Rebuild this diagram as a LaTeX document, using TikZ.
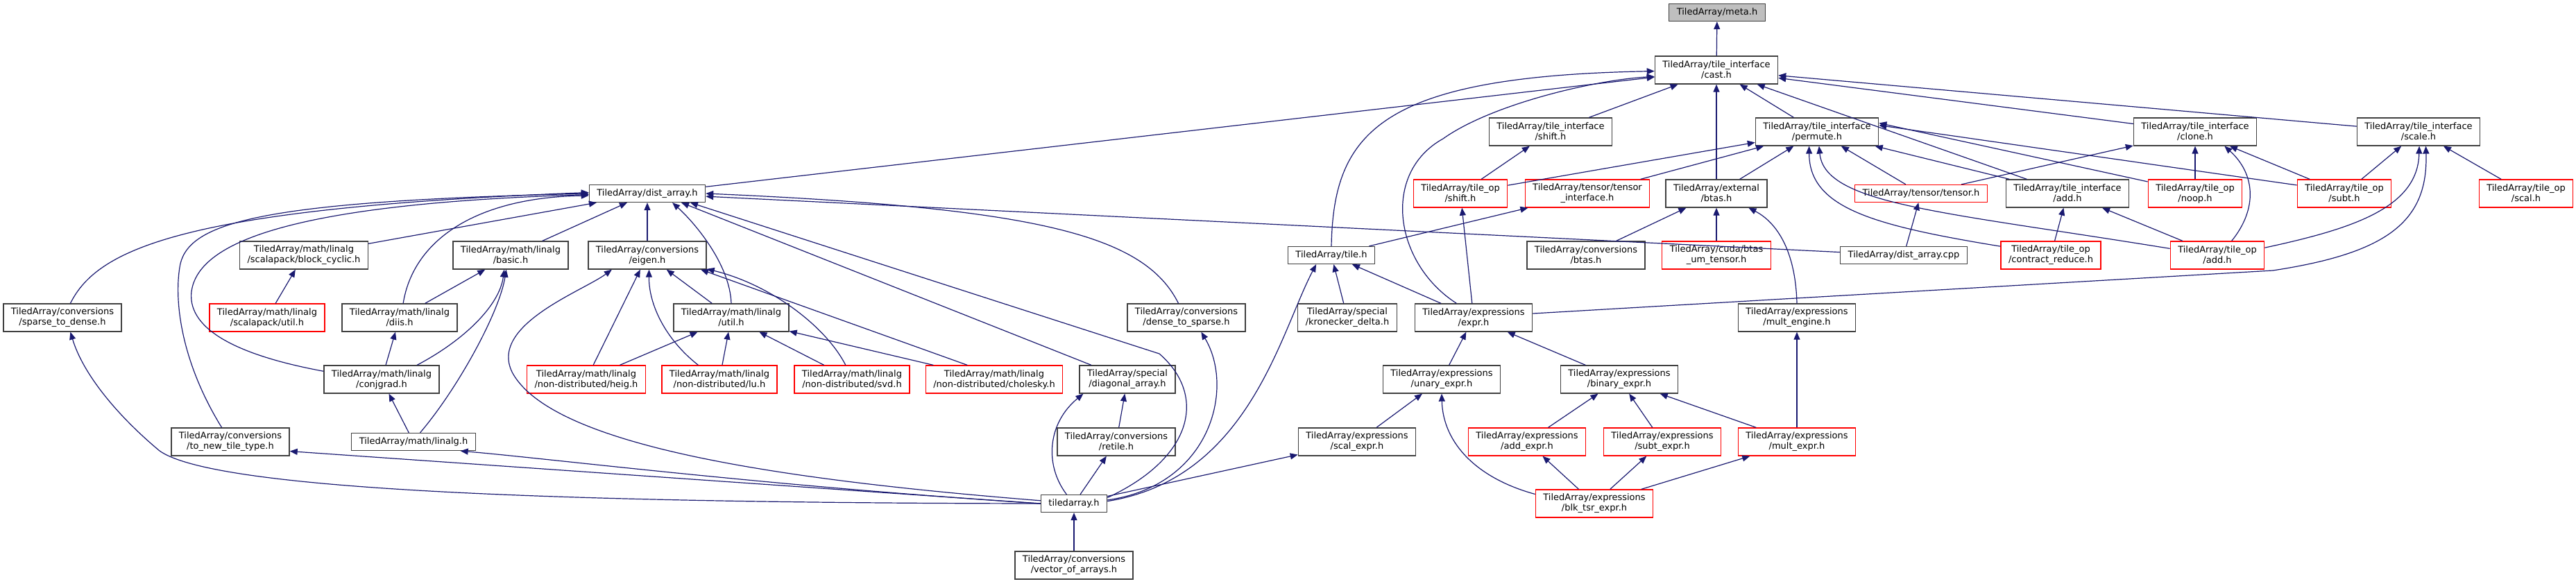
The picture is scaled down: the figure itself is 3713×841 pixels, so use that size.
\documentclass[tikz,border=0pt]{standalone}
\usepackage{fontspec}
\usepackage{tikz}
\usetikzlibrary{arrows.meta}
\newfontfamily\graphfont{DejaVu Sans}
\definecolor{edgeblue}{HTML}{191970}
\definecolor{boxgray}{HTML}{404040}
\definecolor{rootgray}{HTML}{BFBFBF}

\begin{document}
\begin{tikzpicture}[
  x=1pt, y=-1pt,
  filebox/.style={draw=boxgray, line width=1.3pt, fill=white, align=center, inner xsep=11pt, inner ysep=3pt, minimum height=40pt, font=\graphfont\fontsize{13pt}{15pt}\selectfont},
  oneline/.style={minimum height=25pt},
  cutbox/.style={filebox, draw=red},
  rootbox/.style={filebox, oneline, fill=rootgray},
  edge/.style={-{Triangle[length=11pt, width=9pt]}, draw=edgeblue, line width=1.2pt}
]
\useasboundingbox (0,0) rectangle (3713,841);
\node[rootbox] (meta) at (2475,18) {TiledArray/meta.h};
\node[filebox] (cast) at (2474,101) {TiledArray/tile\_interface\\/cast.h};
\node[filebox] (tishift) at (2235,190) {TiledArray/tile\_interface\\/shift.h};
\node[filebox] (permute) at (2619,190) {TiledArray/tile\_interface\\/permute.h};
\node[filebox] (clone) at (3164,190) {TiledArray/tile\_interface\\/clone.h};
\node[filebox] (scale) at (3486,190) {TiledArray/tile\_interface\\/scale.h};
\node[filebox, oneline] (distarray) at (933,279) {TiledArray/dist\_array.h};
\node[cutbox] (toshift) at (2105,279) {TiledArray/tile\_op\\/shift.h};
\node[cutbox] (tensorif) at (2288,279) {TiledArray/tensor/tensor\\\_interface.h};
\node[filebox] (btas) at (2474,279) {TiledArray/external\\/btas.h};
\node[cutbox, oneline] (tensor) at (2769,279) {TiledArray/tensor/tensor.h};
\node[filebox] (tiadd) at (2980,279) {TiledArray/tile\_interface\\/add.h};
\node[cutbox] (noop) at (3164,279) {TiledArray/tile\_op\\/noop.h};
\node[cutbox] (subt) at (3379,279) {TiledArray/tile\_op\\/subt.h};
\node[cutbox] (scal) at (3641,279) {TiledArray/tile\_op\\/scal.h};
\node[filebox] (blockcyclic) at (438,368) {TiledArray/math/linalg\\/scalapack/block\_cyclic.h};
\node[filebox] (basic) at (736,368) {TiledArray/math/linalg\\/basic.h};
\node[filebox] (eigen) at (933,368) {TiledArray/conversions\\/eigen.h};
\node[filebox, oneline] (tile) at (1919,368) {TiledArray/tile.h};
\node[filebox] (convbtas) at (2286,368) {TiledArray/conversions\\/btas.h};
\node[cutbox] (btasum) at (2474,368) {TiledArray/cuda/btas\\\_um\_tensor.h};
\node[filebox, oneline] (distcpp) at (2744,368) {TiledArray/dist\_array.cpp};
\node[cutbox] (contract) at (2956,368) {TiledArray/tile\_op\\/contract\_reduce.h};
\node[cutbox] (toadd) at (3196,368) {TiledArray/tile\_op\\/add.h};
\node[filebox] (sparsedense) at (90,458) {TiledArray/conversions\\/sparse\_to\_dense.h};
\node[cutbox] (scautil) at (385,458) {TiledArray/math/linalg\\/scalapack/util.h};
\node[filebox] (diis) at (576,458) {TiledArray/math/linalg\\/diis.h};
\node[filebox] (util) at (1054,458) {TiledArray/math/linalg\\/util.h};
\node[filebox] (densesparse) at (1710,458) {TiledArray/conversions\\/dense\_to\_sparse.h};
\node[filebox] (kronecker) at (1942,458) {TiledArray/special\\/kronecker\_delta.h};
\node[filebox] (expr) at (2124,458) {TiledArray/expressions\\/expr.h};
\node[filebox] (multengine) at (2590,458) {TiledArray/expressions\\/mult\_engine.h};
\node[filebox] (conjgrad) at (550,547) {TiledArray/math/linalg\\/conjgrad.h};
\node[cutbox] (heig) at (845,547) {TiledArray/math/linalg\\/non-distributed/heig.h};
\node[cutbox] (lu) at (1037,547) {TiledArray/math/linalg\\/non-distributed/lu.h};
\node[cutbox] (svd) at (1228,547) {TiledArray/math/linalg\\/non-distributed/svd.h};
\node[cutbox] (cholesky) at (1433,547) {TiledArray/math/linalg\\/non-distributed/cholesky.h};
\node[filebox] (diagonal) at (1625,547) {TiledArray/special\\/diagonal\_array.h};
\node[filebox] (unary) at (2078,547) {TiledArray/expressions\\/unary\_expr.h};
\node[filebox] (binary) at (2334,547) {TiledArray/expressions\\/binary\_expr.h};
\node[filebox] (newtile) at (332,637) {TiledArray/conversions\\/to\_new\_tile\_type.h};
\node[filebox, oneline] (linalg) at (596,637) {TiledArray/math/linalg.h};
\node[filebox] (retile) at (1609,637) {TiledArray/conversions\\/retile.h};
\node[filebox] (scalexpr) at (1956,637) {TiledArray/expressions\\/scal\_expr.h};
\node[cutbox] (addexpr) at (2201,637) {TiledArray/expressions\\/add\_expr.h};
\node[cutbox] (subtexpr) at (2396,637) {TiledArray/expressions\\/subt\_expr.h};
\node[cutbox] (multexpr) at (2590,637) {TiledArray/expressions\\/mult\_expr.h};
\node[filebox, oneline] (tiledarray) at (1548,726) {tiledarray.h};
\node[cutbox] (blktsr) at (2298,726) {TiledArray/expressions\\/blk\_tsr\_expr.h};
\node[filebox] (vectorarrays) at (1548,815) {TiledArray/conversions\\/vector\_of\_arrays.h};

\draw[edge] (cast) -- (meta);
\draw[edge] (tishift) -- (cast);
\draw[edge] (permute) -- (cast);
\draw[edge] (clone) -- (cast);
\draw[edge] (scale) -- (cast);
\draw[edge] (distarray) -- (cast);
\draw[edge] (tile.north) .. controls (1922,190) and (1990,110) .. (cast.181);
\draw[edge] (expr.140) .. controls (2010,380) and (1990,250) .. (2080,200) .. controls (2150,150) and (2300,115) .. (cast.186);
\draw[edge] (btas) -- (cast);
\draw[edge] (tiadd) -- (cast);
\draw[edge] (toshift) -- (tishift);
\draw[edge] (toshift) -- (permute);
\draw[edge] (tensorif) -- (permute);
\draw[edge] (btas) -- (permute);
\draw[edge] (tensor) -- (permute);
\draw[edge] (tiadd) -- (permute);
\draw[edge] (noop.166) -- (permute.8);
\draw[edge] (subt.170) -- (permute.6);
\draw[edge] (contract.170) .. controls (2700,325) and (2608,300) .. (permute.241);
\draw[edge] (toadd.172) .. controls (2800,305) and (2630,295) .. (permute.278);
\draw[edge] (tensor) -- (clone);
\draw[edge] (noop) -- (clone);
\draw[edge] (toadd.45) .. controls (3255,300) and (3250,250) .. (clone.334);
\draw[edge] (subt) -- (clone);
\draw[edge] (subt) -- (scale);
\draw[edge] (toadd.9) .. controls (3390,330) and (3485,300) .. (scale.273);
\draw[edge] (expr.4) -- (3276,390) .. controls (3440,365) and (3500,320) .. (scale.297);
\draw[edge] (scal) -- (scale);
\draw[edge] (distcpp) -- (tensor);
\draw[edge] (distcpp) -- (distarray);
\draw[edge] (contract) -- (tiadd);
\draw[edge] (toadd) -- (tiadd);
\draw[edge] (expr) -- (toshift);
\draw[edge] (tile) -- (tensorif);
\draw[edge] (convbtas) -- (btas);
\draw[edge] (btasum) -- (btas);
\draw[edge] (multengine.north) .. controls (2588,360) and (2560,320) .. (btas.336);
\draw[edge] (kronecker) -- (tile);
\draw[edge] (expr) -- (tile);
\draw[edge] (tiledarray.4) .. controls (1800,690) and (1845,480) .. (tile.211);
\draw[edge] (unary) -- (expr);
\draw[edge] (binary) -- (expr);
\draw[edge] (scalexpr) -- (unary);
\draw[edge] (blktsr.171) .. controls (2130,690) and (2080,640) .. (unary.south);
\draw[edge] (addexpr) -- (binary);
\draw[edge] (subtexpr) -- (binary);
\draw[edge] (multexpr) -- (binary);
\draw[edge] (multexpr) -- (multengine);
\draw[edge] (blktsr) -- (addexpr);
\draw[edge] (blktsr) -- (subtexpr);
\draw[edge] (blktsr) -- (multexpr);
\draw[edge] (tiledarray) -- (scalexpr);
\draw[edge] (tiledarray.6) .. controls (1745,700) and (1780,560) .. (densesparse.316);
\draw[edge] (tiledarray) -- (retile);
\draw[edge] (tiledarray.129) .. controls (1505,670) and (1510,610) .. (diagonal.198);
\draw[edge] (tiledarray.west) -- (newtile.351);
\draw[edge] (tiledarray.west) .. controls (1100,700) and (800,662) .. (linalg.349);
\draw[edge] (tiledarray.west) .. controls (700,725) and (300,700) .. (230,650) .. controls (170,600) and (120,540) .. (sparsedense.299);
\draw[edge] (tiledarray.175) .. controls (1100,690) and (800,640) .. (740,540) .. controls (700,470) and (840,420) .. (eigen.202);
\draw[edge] (tiledarray.10) .. controls (1720,660) and (1740,570) .. (1671,510) -- (distarray.348);
\draw[edge] (vectorarrays) -- (tiledarray);
\draw[edge] (retile) -- (diagonal);
\draw[edge] (diagonal) -- (distarray.345);
\draw[edge] (densesparse.119) .. controls (1650,340) and (1500,300) .. (distarray.east);
\draw[edge] (util.north) .. controls (1052,380) and (1000,320) .. (distarray.340);
\draw[edge] (eigen) -- (distarray);
\draw[edge] (basic) -- (distarray);
\draw[edge] (blockcyclic) -- (distarray);
\draw[edge] (diis.76) .. controls (595,350) and (680,285) .. (distarray.182);
\draw[edge] (conjgrad.172) .. controls (330,510) and (270,470) .. (276,420) .. controls (285,360) and (380,295) .. (distarray.181);
\draw[edge] (newtile.121) .. controls (260,520) and (250,430) .. (260,380) .. controls (275,320) and (380,290) .. (distarray.180);
\draw[edge] (sparsedense.61) .. controls (140,360) and (260,300) .. (distarray.179);
\draw[edge] (scautil) -- (blockcyclic);
\draw[edge] (diis) -- (basic);
\draw[edge] (conjgrad.22) .. controls (670,490) and (720,440) .. (basic.246);
\draw[edge] (linalg.54) .. controls (660,560) and (720,450) .. (basic.253);
\draw[edge] (conjgrad) -- (diis);
\draw[edge] (linalg) -- (conjgrad);
\draw[edge] (heig) -- (eigen);
\draw[edge] (lu.146) .. controls (960,490) and (935,440) .. (eigen.277);
\draw[edge] (util) -- (eigen);
\draw[edge] (svd.114) .. controls (1190,470) and (1110,410) .. (eigen.347);
\draw[edge] (cholesky.152) -- (eigen.345);
\draw[edge] (heig) -- (util);
\draw[edge] (lu) -- (util);
\draw[edge] (svd) -- (util);
\draw[edge] (cholesky) -- (util);
\end{tikzpicture}
\end{document}
